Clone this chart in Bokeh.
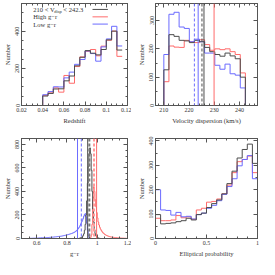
from bokeh.plotting import figure
from bokeh.layouts import gridplot
from bokeh.models import Range1d, FixedTicker, LinearAxis, Label, Span, Arrow, CustomJSTickFormatter
from bokeh.embed import file_html
from bokeh.resources import INLINE

# ---------------- data ----------------
# Panel 1: redshift histograms (bin width 0.005 starting at 0.02)
z_start = 0.02
z_width = 0.005
z_all  = [0, 0, 0, 0, 51, 65, 89, 90, 133, 159, 214, 260, 296, 282, 273, 302, 354, 401, 299]
z_high = [0, 0, 0, 0, 55, 68, 95, 72, 162, 120, 210, 262, 292, 302, 268, 320, 352, 401, 265]
z_low  = [0, 0, 0, 0, 58, 75, 101, 100, 149, 180, 222, 248, 294, 280, 239, 316, 359, 427, 321]

# Panel 2: velocity dispersion histograms (16 bins, 210 -> 242.3)
vd_min, vd_max = 210.0, 242.3
vd_all  = [126, 250, 244, 230, 228, 222, 230, 225, 205, 190, 180, 174, 185, 175, 165, 100]
vd_high = [84, 210, 206, 205, 230, 225, 222, 232, 215, 195, 200, 197, 200, 190, 180, 115]
vd_low  = [180, 322, 329, 277, 272, 225, 234, 225, 185, 185, 142, 128, 146, 112, 107, 62]
vd_lines_all  = [225.9, 225.1]   # solid, dashed
vd_lines_high = [229.9]
vd_lines_low  = [223.6, 222.1]

# Panel 3: g-r histograms (bin width 0.005)
gr_width = 0.005
gr_all_start = 0.88
gr_all = [2, 4, 6, 10, 15, 25, 40, 70, 120, 200, 320, 470, 610, 720, 770, 720, 580, 400,
          250, 140, 75, 40, 22, 12, 7, 4, 2, 1]
gr_low_start = 0.55
gr_low = [1, 2, 1, 2, 2, 3, 2, 3, 3, 4,
          3, 4, 4, 5, 4, 5, 6, 5, 6, 7,
          6, 7, 7, 8, 8, 8, 9, 10, 10, 11,
          11, 12, 12, 13, 14, 14, 15, 16, 17, 18,
          18, 19, 20, 21, 22, 24, 25, 27, 28, 30,
          31, 33, 35, 37, 39, 41, 43, 46, 48, 52,
          55, 60, 66, 72, 80, 88, 98, 110, 125, 140,
          155, 170, 190, 205, 211, 185, 130, 70, 25, 6]
gr_high_start = 0.955
gr_high = [10, 30, 120, 330, 440, 400, 330, 270, 220, 175, 140, 115, 95, 80, 68, 58, 50, 44,
           38, 33, 29, 26, 23, 20, 18, 16, 14, 13, 12, 11, 10, 9, 8, 8, 7, 6, 6, 5, 5, 4,
           4, 3, 3, 3, 2, 2, 2, 1, 1]
gr_lines_all  = [0.937, 0.948]
gr_lines_high = [0.996, 0.979]
gr_lines_low  = [0.870, 0.895]

# Panel 4: elliptical probability (bin width 0.05 from 0 to 1)
ep_start = 0.0
ep_width = 0.05
ep_all  = [98, 60, 62, 64, 69, 73, 83, 76, 98, 104, 127, 143, 158, 183, 225, 276, 330, 365, 387, 308]
ep_high = [83, 73, 73, 76, 94, 85, 89, 79, 117, 124, 149, 152, 162, 183, 219, 270, 315, 324, 338, 270]
ep_low  = [200, 117, 115, 96, 107, 89, 91, 80, 98, 104, 124, 136, 155, 181, 213, 245, 298, 324, 340, 245]

legend_labels = ["210 < V", "disp", "< 242.3", "High g\u2212r", "Low g\u2212r"]

# ---------------- style ----------------
BLACK = "#4d4d4d"
RED = "#ff6b6b"
BLUE = "#6b6bff"
AXC = "#555555"
FONT = "Liberation Serif"
TICK_FS = "6px"
LAB_FS = "6.5px"


def outline(start, width, vals, close=True):
    xs, ys = [start], [0]
    for i, v in enumerate(vals):
        x0 = start + i * width
        x1 = x0 + width
        xs += [x0, x1]
        ys += [v, v]
    if close:
        xs.append(start + len(vals) * width)
        ys.append(0)
    return xs, ys


def make_fig(width, height, xr, yr, xticks, xminor, yticks, yminor, xlabel,
             xlabels=None, mb=(2, 4, 18, 18)):
    top, right, bottom, left = mb
    p = figure(width=width, height=height, x_range=Range1d(*xr), y_range=Range1d(*yr),
               output_backend="svg", toolbar_location=None,
               min_border_top=top, min_border_right=right, min_border_bottom=bottom,
               min_border_left=left)
    p.xgrid.visible = False
    p.ygrid.visible = False
    p.outline_line_color = AXC
    p.outline_line_width = 1
    p.background_fill_color = "white"
    p.border_fill_color = "white"
    p.xaxis.ticker = FixedTicker(ticks=xticks, minor_ticks=xminor)
    p.yaxis.ticker = FixedTicker(ticks=yticks, minor_ticks=yminor)
    if xlabels is not None:
        p.xaxis.major_label_overrides = {t: l for t, l in zip(xticks, xlabels)}
    p.xaxis.axis_label = xlabel
    p.yaxis.axis_label = "Number"
    p.yaxis.major_label_orientation = "vertical"
    for ax in (p.xaxis[0], p.yaxis[0]):
        ax.axis_line_color = AXC
        ax.major_tick_line_color = AXC
        ax.minor_tick_line_color = AXC
        ax.major_tick_in = 4
        ax.major_tick_out = 0
        ax.minor_tick_in = 2
        ax.minor_tick_out = 0
        ax.major_label_text_font = FONT
        ax.major_label_text_font_size = TICK_FS
        ax.major_label_text_color = "#333333"
        ax.axis_label_text_font = FONT
        ax.axis_label_text_font_size = LAB_FS
        ax.axis_label_text_font_style = "normal"
        ax.axis_label_text_color = "#333333"
        ax.major_label_standoff = 2
        ax.axis_label_standoff = 2
    # mirrored tick axes
    blank = CustomJSTickFormatter(code="return ''")
    for loc, tk in (("above", FixedTicker(ticks=xticks, minor_ticks=xminor)),
                    ("right", FixedTicker(ticks=yticks, minor_ticks=yminor))):
        ax = LinearAxis(ticker=tk, formatter=blank, axis_line_color=AXC,
                        major_tick_line_color=AXC, minor_tick_line_color=AXC,
                        major_tick_in=4, major_tick_out=0, minor_tick_in=2, minor_tick_out=0,
                        major_label_standoff=0)
        p.add_layout(ax, loc)
    return p


def frange(a, b, s):
    out = []
    n = int(round((b - a) / s))
    for i in range(n + 1):
        out.append(round(a + i * s, 6))
    return out


# ---------------- Panel 1 ----------------
p1 = make_fig(131, 126, (0.02, 0.12), (0, 550),
              frange(0.02, 0.12, 0.02), frange(0.02, 0.12, 0.005),
              [0, 200, 400], frange(0, 550, 50), "Redshift",
              xlabels=["0.02", "0.04", "0.06", "0.08", "0.1", "0.12"],
              mb=(3, 4, 18, 18))
for vals, col in ((z_high, RED), (z_low, BLUE), (z_all, BLACK)):
    xs, ys = outline(z_start, z_width, vals, close=False)
    p1.line(xs, ys, line_color=col, line_width=1)

lab_kw = dict(text_font=FONT, text_font_size=LAB_FS, text_color="#333333", text_baseline="middle")
p1.add_layout(Label(x=0.0312, y=518, text=legend_labels[0], **lab_kw))
p1.add_layout(Label(x=0.0312, y=518, x_offset=21, y_offset=-2, text=legend_labels[1],
                    text_font=FONT, text_font_size="4.5px", text_color="#333333",
                    text_baseline="middle"))
p1.add_layout(Label(x=0.0312, y=518, x_offset=30, text=legend_labels[2], **lab_kw))
p1.add_layout(Label(x=0.0312, y=478, text=legend_labels[3], **lab_kw))
p1.add_layout(Label(x=0.0312, y=439, text=legend_labels[4], **lab_kw))
for yy, col in ((518, BLACK), (478, RED), (439, BLUE)):
    p1.add_layout(Arrow(end=None, x_start=0.087, x_end=0.1015, y_start=yy, y_end=yy,
                        line_color=col, line_width=1))

# ---------------- Panel 2 ----------------
vd_w = (vd_max - vd_min) / len(vd_all)
p2 = make_fig(128, 126, (206.7, 247.1), (0, 360),
              [210, 220, 230, 240], frange(206, 246, 2),
              [0, 100, 200, 300], frange(0, 350, 50), "Velocity dispersion (km/s)",
              mb=(3, 2, 18, 24))
for vals, col in ((vd_high, RED), (vd_low, BLUE), (vd_all, BLACK)):
    xs, ys = outline(vd_min, vd_w, vals)
    p2.line(xs, ys, line_color=col, line_width=1)
for locs, col in ((vd_lines_low, BLUE), (vd_lines_all, BLACK), (vd_lines_high, RED)):
    p2.add_layout(Span(location=locs[0], dimension="height", line_color=col, line_width=1))
    if len(locs) > 1:
        p2.add_layout(Span(location=locs[1], dimension="height", line_color=col,
                           line_width=1, line_dash="3 2"))

# ---------------- Panel 3 ----------------
p3 = make_fig(131, 133, (0.5, 1.2), (0, 850),
              [0.6, 0.8, 1.0, 1.2], frange(0.5, 1.2, 0.05),
              [0, 200, 400, 600, 800], frange(0, 850, 50), "g\u2212r",
              xlabels=["0.6", "0.8", "1", "1.2"],
              mb=(12, 4, 18, 18))
for vals, start, col in ((gr_low, gr_low_start, BLUE), (gr_high, gr_high_start, RED),
                         (gr_all, gr_all_start, BLACK)):
    xs, ys = outline(start, gr_width, vals)
    p3.line(xs, ys, line_color=col, line_width=1)
for locs, col, dcol in ((gr_lines_low, BLUE, BLUE), (gr_lines_all, BLACK, "#777777"),
                        (gr_lines_high, RED, "#ff9a9a")):
    p3.add_layout(Span(location=locs[0], dimension="height", line_color=col, line_width=1))
    p3.add_layout(Span(location=locs[1], dimension="height", line_color=dcol,
                       line_width=1 if col == BLUE else 2, line_dash="3 2"))

# ---------------- Panel 4 ----------------
p4 = make_fig(128, 133, (0, 1), (0, 410),
              [0, 0.5, 1], frange(0, 1, 0.1),
              [0, 100, 200, 300, 400], frange(0, 400, 50), "Elliptical probability",
              xlabels=["0", "0.5", "1"],
              mb=(12, 2, 18, 24))
for vals, col in ((ep_high, RED), (ep_low, BLUE), (ep_all, BLACK)):
    xs, ys = outline(ep_start, ep_width, vals)
    p4.line(xs, ys, line_color=col, line_width=1)

grid = gridplot([[p1, p2], [p3, p4]], toolbar_location=None)
open("out.html", "w").write(file_html(grid, INLINE))
